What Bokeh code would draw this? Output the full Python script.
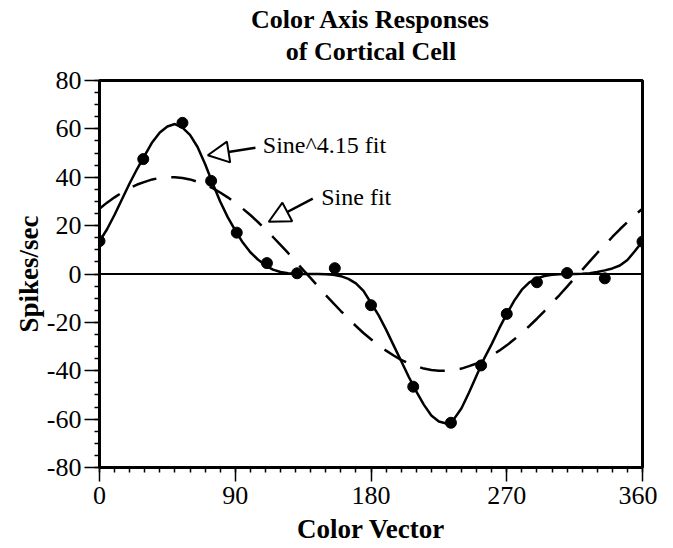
from bokeh.plotting import figure
from bokeh.models import (FixedTicker, Span, Label, Arrow, NormalHead, Range1d, LinearAxis)
from bokeh.embed import file_html
from bokeh.resources import INLINE

# ---- data ----
vector_deg = [0, 29, 55, 74, 91, 111, 131, 156, 180, 208, 233, 253, 270, 290, 310, 335, 360]
spikes = [13.6, 47.5, 62.5, 38.5, 17.1, 4.5, 0.3, 2.4, -12.9, -46.6, -61.5, -37.8, -16.5, -3.4, 0.4, -1.8, 13.4]

fit_deg = [0, 5, 10, 15, 20, 25, 30, 35, 40, 45, 50, 55, 60, 65, 70, 75, 80, 85, 90,
           95, 100, 105, 110, 115, 120, 125, 130, 135, 140, 145, 150, 155, 160, 165, 170,
           175, 180, 185, 190, 195, 200, 205, 210, 215, 220, 225, 230, 235, 240, 245, 250,
           255, 260, 265, 270, 275, 280, 285, 290, 295, 300, 305, 310, 315, 320, 325, 330,
           335, 340, 345, 350, 355, 360]
sine_fit = [27.0, 29.5, 31.7, 33.7, 35.5, 37.0, 38.1, 39.1, 39.7, 40.0, 40.0, 39.7, 39.1,
            38.1, 37.0, 35.5, 33.7, 31.7, 29.5, 27.0, 24.4, 21.5, 18.5, 15.3, 12.0, 8.7,
            5.2, 1.7, -1.7, -5.2, -8.7, -12.0, -15.3, -18.5, -21.5, -24.4, -27.0, -29.5,
            -31.7, -33.7, -35.5, -37.0, -38.1, -39.1, -39.7, -40.0, -40.0, -39.7, -39.1,
            -38.1, -37.0, -35.5, -33.7, -31.7, -29.5, -27.0, -24.4, -21.5, -18.5, -15.3,
            -12.0, -8.7, -5.2, -1.7, 1.7, 5.2, 8.7, 12.0, 15.3, 18.5, 21.5, 24.4, 27.0]
sine415_fit = [13.5, 18.5, 24.5, 31.0, 37.5, 43.5, 49.0, 54.5, 58.5, 61.0, 62.0, 60.5, 57.5,
               52.5, 45.5, 37.5, 30.0, 23.5, 18.0, 13.0, 9.0, 6.0, 3.6, 1.8, 0.8, 0.3,
               0.1, 0.0, 0.0, 0.0, -0.1, -0.3, -0.9, -2.0, -3.9, -7.0, -12.0, -17.0,
               -23.0, -29.5, -36.0, -42.5, -48.5, -54.0, -58.5, -61.0, -61.8, -60.0, -55.5,
               -49.0, -42.0, -35.0, -29.0, -22.5, -16.5, -11.0, -6.5, -3.5, -1.8, -0.8,
               -0.3, -0.1, 0.0, 0.0, 0.1, 0.3, 0.8, 1.5, 2.3, 3.5, 5.8, 9.5, 13.5]

x_ticks = [0, 90, 180, 270, 360]
y_ticks = [-80, -60, -40, -20, 0, 20, 40, 60, 80]
y_tick_labels = ["-80", "-60", "-40", "-20", "0", "20", "40", "60", "80"]
x_minor = list(range(0, 361, 10))
y_minor = list(range(-80, 81, 5))

title_lines = ["Color Axis Responses", "of Cortical Cell"]
x_label = "Color Vector"
y_label = "Spikes/sec"
note_power = "Sine^4.15 fit"
note_sine = "Sine fit"

FONT = "Liberation Serif"

p = figure(width=657, height=532, frame_width=543, frame_height=387,
           x_range=Range1d(0, 360), y_range=Range1d(-80, 80),
           output_backend="svg", toolbar_location=None, title=None,
           min_border_left=99, min_border_right=15, min_border_top=80, min_border_bottom=65)
p.background_fill_color = "white"
p.border_fill_color = "white"
p.outline_line_color = "black"
p.outline_line_width = 3
p.xgrid.visible = False
p.ygrid.visible = False

# axes
for ax in (p.xaxis[0], p.yaxis[0]):
    ax.axis_line_width = 3
    ax.axis_line_color = "black"
    ax.major_tick_in = 0
    ax.minor_tick_in = 0
    ax.major_tick_line_width = 1.5
    ax.minor_tick_line_width = 1.5
    ax.major_label_text_font = FONT
    ax.major_label_text_font_size = "26px"
    ax.major_label_text_color = "black"
    ax.axis_label_text_font = FONT
    ax.axis_label_text_font_style = "bold"
    ax.axis_label_text_font_size = "27px"
    ax.axis_label_text_color = "black"

p.xaxis.ticker = FixedTicker(ticks=x_ticks, minor_ticks=x_minor)
p.yaxis.ticker = FixedTicker(ticks=y_ticks, minor_ticks=y_minor)
p.yaxis.major_label_overrides = dict(zip(y_ticks, y_tick_labels))
p.xaxis.major_tick_out = 14
p.xaxis.minor_tick_out = 5
p.yaxis.major_tick_out = 15
p.yaxis.minor_tick_out = 5
p.xaxis.major_label_standoff = 5
p.yaxis.major_label_standoff = 3
p.xaxis.axis_label = x_label
p.yaxis.axis_label = y_label
p.xaxis.axis_label_standoff = 7
p.yaxis.axis_label_standoff = 0


# two-line title, each line centred over the frame (bare label-only axes above the frame)
def title_line(text, standoff):
    ax = LinearAxis(ticker=FixedTicker(ticks=[]), axis_label=text,
                    axis_label_standoff=standoff, axis_line_color=None,
                    major_tick_out=0, major_tick_in=0, minor_tick_out=0, minor_tick_in=0,
                    major_label_standoff=0, major_label_text_font_size="0px",
                    axis_label_text_font=FONT, axis_label_text_font_style="bold",
                    axis_label_text_font_size="26px", axis_label_text_color="black")
    return ax


p.add_layout(title_line(title_lines[1], 15), "above")   # closest to the frame
p.add_layout(title_line(title_lines[0], 0), "above")

# zero line
p.add_layout(Span(location=0, dimension="width", line_color="black", line_width=2))

# curves
p.line(fit_deg, sine_fit, line_color="black", line_width=2.5, line_dash="25 15")
p.line(fit_deg, sine415_fit, line_color="black", line_width=2.5)
p.scatter(vector_deg, spikes, size=11, color="black")

# annotations with open triangle arrows
p.add_layout(Arrow(end=NormalHead(size=21, fill_color="white", line_color="black", line_width=2),
                   x_start=103.4, y_start=52.2, x_end=71.8, y_end=49.1,
                   line_color="black", line_width=2.5))
p.add_layout(Label(x=108.3, y=53.2, text=note_power, text_font=FONT, text_font_size="24px",
                   text_baseline="middle", text_color="black"))
p.add_layout(Arrow(end=NormalHead(size=21, fill_color="white", line_color="black", line_width=2),
                   x_start=141.4, y_start=31.2, x_end=112.2, y_end=21.6,
                   line_color="black", line_width=2.5))
p.add_layout(Label(x=147.0, y=31.9, text=note_sine, text_font=FONT, text_font_size="24px",
                   text_baseline="middle", text_color="black"))

open("out.html", "w").write(file_html(p, INLINE))
